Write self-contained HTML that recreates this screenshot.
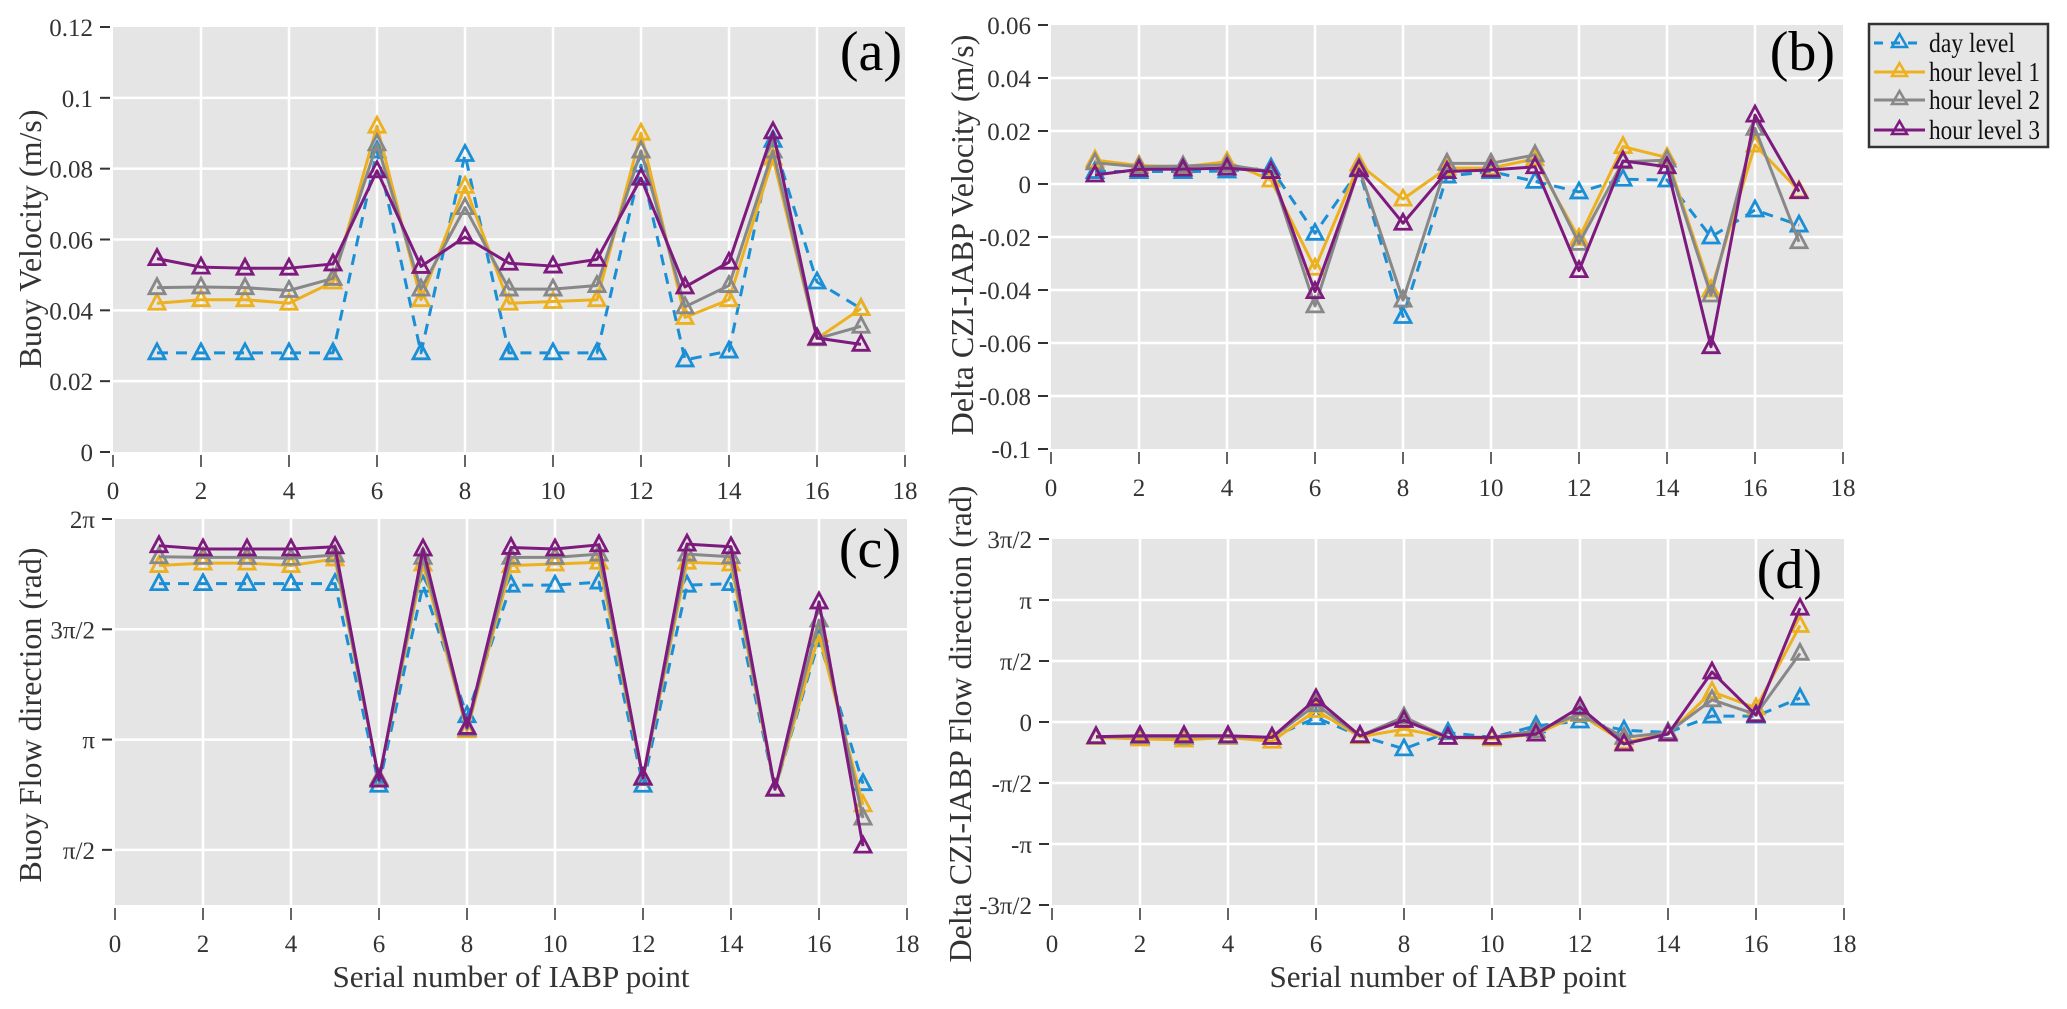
<!DOCTYPE html>
<html><head><meta charset="utf-8">
<style>
html,body{margin:0;padding:0;background:#fff;}
svg{display:block;font-family:"Liberation Serif",serif;}
</style></head>
<body>
<svg id="fig" width="2067" height="1009" viewBox="0 0 2067 1009" xmlns="http://www.w3.org/2000/svg">
<rect x="0" y="0" width="2067" height="1009" fill="#fff"/>
<g id="legend">
<rect x="1869" y="24" width="179" height="123" fill="#e6e6e6" stroke="#333" stroke-width="2.5"/>
<g>
<line x1="1874" y1="43" x2="1925" y2="43" stroke="#1a8fd6" stroke-width="3" stroke-dasharray="9,8"/>
<polygon points="1899.5,34 1892,47 1907,47" fill="none" stroke="#1a8fd6" stroke-width="2.5"/>
<text x="1929" y="52" font-size="27" fill="#111" textLength="86" lengthAdjust="spacingAndGlyphs">day level</text></g>
<g>
<line x1="1874" y1="72" x2="1925" y2="72" stroke="#EDB120" stroke-width="3"/>
<polygon points="1899.5,63 1892,76 1907,76" fill="none" stroke="#EDB120" stroke-width="2.5"/>
<text x="1929" y="81" font-size="27" fill="#111" textLength="111" lengthAdjust="spacingAndGlyphs">hour level 1</text></g>
<g>
<line x1="1874" y1="100" x2="1925" y2="100" stroke="#888" stroke-width="3"/>
<polygon points="1899.5,91 1892,104 1907,104" fill="none" stroke="#888" stroke-width="2.5"/>
<text x="1929" y="109" font-size="27" fill="#111" textLength="111" lengthAdjust="spacingAndGlyphs">hour level 2</text></g>
<g>
<line x1="1874" y1="130" x2="1925" y2="130" stroke="#7E1A7E" stroke-width="3"/>
<polygon points="1899.5,121 1892,134 1907,134" fill="none" stroke="#7E1A7E" stroke-width="2.5"/>
<text x="1929" y="139" font-size="27" fill="#111" textLength="111" lengthAdjust="spacingAndGlyphs">hour level 3</text></g>
</g>
</svg>
<script>
// ---------- data ----------
const points = [1,2,3,4,5,6,7,8,9,10,11,12,13,14,15,16,17];
const xTicks = [0,2,4,6,8,10,12,14,16,18];
const seriesNames = ["day level","hour level 1","hour level 2","hour level 3"];

// (a) Buoy velocity (m/s)
const aDay   = [0.028,0.028,0.028,0.028,0.028,0.085,0.028,0.084,0.028,0.028,0.028,0.081,0.026,0.0285,0.088,0.048,0.0405];
const aHour1 = [0.042,0.043,0.043,0.042,0.048,0.092,0.043,0.075,0.042,0.0425,0.043,0.090,0.038,0.043,0.083,0.032,0.0405];
const aHour2 = [0.0464,0.0466,0.0464,0.0456,0.049,0.087,0.046,0.069,0.046,0.046,0.047,0.085,0.041,0.047,0.085,0.032,0.0355];
const aHour3 = [0.0546,0.0522,0.0519,0.0519,0.0531,0.0794,0.0524,0.0607,0.0533,0.0525,0.0544,0.0773,0.0466,0.0536,0.0904,0.0322,0.0304];
const aYTicks = [0,0.02,0.04,0.06,0.08,0.1,0.12];
const aYLabels = ["0","0.02","0.04","0.06","0.08","0.1","0.12"];

// (b) Delta CZI-IABP velocity (m/s)
const bDay   = [0.0047,0.0047,0.0047,0.0049,0.006,-0.0186,0.0053,-0.050,0.003,0.0047,0.001,-0.003,0.0018,0.0015,-0.020,-0.0098,-0.0155];
const bHour1 = [0.009,0.007,0.0065,0.0084,0.0015,-0.0318,0.0075,-0.0057,0.006,0.006,0.0095,-0.0205,0.0141,0.010,-0.040,0.0147,-0.0025];
const bHour2 = [0.008,0.0065,0.0068,0.0072,0.0047,-0.046,0.006,-0.0438,0.0078,0.0078,0.011,-0.0224,0.0084,0.009,-0.0419,0.021,-0.0218];
const bHour3 = [0.0034,0.0055,0.0056,0.006,0.0047,-0.0406,0.0055,-0.0148,0.0047,0.0053,0.0065,-0.0327,0.0087,0.0065,-0.0614,0.026,-0.0029];
const bYTicks = [-0.1,-0.08,-0.06,-0.04,-0.02,0,0.02,0.04,0.06];
const bYLabels = ["-0.1","-0.08","-0.06","-0.04","-0.02","0","0.02","0.04","0.06"];

// (c) Buoy flow direction (in units of pi rad)
const cDay   = [1.707,1.707,1.707,1.707,1.707,0.793,1.70,1.108,1.70,1.70,1.714,0.793,1.70,1.707,0.775,1.452,0.80];
const cHour1 = [1.789,1.80,1.80,1.789,1.819,0.823,1.796,1.04,1.789,1.796,1.804,0.823,1.804,1.796,0.775,1.475,0.704];
const cHour2 = [1.829,1.826,1.826,1.822,1.837,0.823,1.826,1.048,1.826,1.826,1.841,0.823,1.841,1.829,0.775,1.542,0.644];
const cHour3 = [1.879,1.864,1.864,1.864,1.874,0.816,1.864,1.055,1.871,1.864,1.883,0.826,1.886,1.874,0.775,1.624,0.517];
const cYTicks = [0.5,1,1.5,2];
const cYLabels = ["\u03c0/2","\u03c0","3\u03c0/2","2\u03c0"];

// (d) Delta CZI-IABP flow direction (in units of pi rad)
const dDay   = [-0.126,-0.126,-0.126,-0.126,-0.126,0.035,-0.113,-0.22,-0.086,-0.126,-0.032,0.008,-0.067,-0.086,0.048,0.048,0.196];
const dHour1 = [-0.126,-0.139,-0.147,-0.126,-0.158,0.094,-0.121,-0.059,-0.126,-0.139,-0.099,0.062,-0.166,-0.099,0.249,0.115,0.791];
const dHour2 = [-0.121,-0.121,-0.121,-0.121,-0.126,0.142,-0.113,0.04,-0.126,-0.126,-0.072,0.067,-0.126,-0.086,0.182,0.062,0.563];
const dHour3 = [-0.121,-0.113,-0.113,-0.113,-0.126,0.19,-0.113,0.013,-0.126,-0.126,-0.099,0.121,-0.18,-0.099,0.41,0.056,0.933];
const dYTicks = [-1.5,-1,-0.5,0,0.5,1,1.5];
const dYLabels = ["-3\u03c0/2","-\u03c0","-\u03c0/2","0","\u03c0/2","\u03c0","3\u03c0/2"];

// ---------- drawing ----------
const NS = "http://www.w3.org/2000/svg";
const svg = document.getElementById("fig");
const colors = ["#1a8fd6","#EDB120","#888888","#7E1A7E"];
function mk(tag, parent){ const e=document.createElementNS(NS,tag); parent.appendChild(e); return e; }

function panel(p){
  const g = mk("g", svg);
  
  
  const xs = v => p.x0 + (v - 0) / 18 * (p.x1 - p.x0);
  const ys = v => p.yb - (v - p.ymin) / (p.ymax - p.ymin) * (p.yb - p.yt);
  const bg = mk("rect", g);
  
  
  bg.setAttribute("x", p.x0); bg.setAttribute("y", p.yt);
  bg.setAttribute("width", p.x1 - p.x0); bg.setAttribute("height", p.yb - p.yt);
  bg.setAttribute("fill", "#e5e5e5");
  xTicks.forEach(t => {
    if (t === 0 || t === 18) return;
    const l = mk("line", g);
    
    
    l.setAttribute("x1", xs(t)); l.setAttribute("x2", xs(t));
    l.setAttribute("y1", p.yt); l.setAttribute("y2", p.yb);
    l.setAttribute("stroke", "#fff"); l.setAttribute("stroke-width", "2.5");
  });
  p.yTicks.forEach(t => {
    if (t === p.ymin || t === p.ymax) return;
    const l = mk("line", g);
    
    
    l.setAttribute("x1", p.x0); l.setAttribute("x2", p.x1);
    l.setAttribute("y1", ys(t)); l.setAttribute("y2", ys(t));
    l.setAttribute("stroke", "#fff"); l.setAttribute("stroke-width", "2.5");
  });
  xTicks.forEach(t => {
    const l = mk("line", g);
    
    
    l.setAttribute("x1", xs(t)); l.setAttribute("x2", xs(t));
    l.setAttribute("y1", p.yb + 3); l.setAttribute("y2", p.yb + 15);
    l.setAttribute("stroke", "#333"); l.setAttribute("stroke-width", "1.5");
    const tx = mk("text", g);
    
    
    tx.setAttribute("x", xs(t)); tx.setAttribute("y", p.yb + 47);
    tx.setAttribute("text-anchor", "middle"); tx.setAttribute("font-size", "25");
    tx.setAttribute("fill", "#333");
    tx.textContent = t;
  });
  p.yTicks.forEach((t, i) => {
    const l = mk("line", g);
    
    
    l.setAttribute("x1", p.x0 - 13); l.setAttribute("x2", p.x0 - 3);
    l.setAttribute("y1", ys(t)); l.setAttribute("y2", ys(t));
    l.setAttribute("stroke", "#333"); l.setAttribute("stroke-width", "2");
    const tx = mk("text", g);
    
    
    tx.setAttribute("x", p.x0 - 20); tx.setAttribute("y", ys(t) + 9);
    tx.setAttribute("text-anchor", "end"); tx.setAttribute("font-size", "25");
    tx.setAttribute("fill", "#333");
    tx.textContent = p.yLabels[i];
  });
  p.series.forEach((vals, si) => {
    const sg = mk("g", g);
    
    
    const pl = mk("polyline", sg);
    
    
    pl.setAttribute("points", points.map((x, i) => xs(x) + "," + ys(vals[i])).join(" "));
    pl.setAttribute("fill", "none"); pl.setAttribute("stroke", colors[si]);
    pl.setAttribute("stroke-width", "3"); pl.setAttribute("stroke-linejoin", "round");
    if (si === 0) pl.setAttribute("stroke-dasharray", "11,8");
    points.forEach((x, i) => {
      const cx = xs(x), cy = ys(vals[i]);
      const m = mk("polygon", sg);
      
      
      m.setAttribute("points", cx + "," + (cy - 9) + " " + (cx - 8) + "," + (cy + 6) + " " + (cx + 8) + "," + (cy + 6));
      m.setAttribute("fill", "none"); m.setAttribute("stroke", colors[si]); m.setAttribute("stroke-width", "2.8");
    });
  });
  const yl = mk("text", g);
  
  
  yl.setAttribute("transform", "translate(" + p.ylx + "," + p.yly + ") rotate(-90)");
  yl.setAttribute("text-anchor", "middle"); yl.setAttribute("dominant-baseline", "central");
  yl.setAttribute("font-size", "32"); yl.setAttribute("fill", "#333");
  yl.textContent = p.ylabel;
  if (p.xlabel) {
    const xl = mk("text", g);
    
    
    xl.setAttribute("x", (p.x0 + p.x1) / 2); xl.setAttribute("y", 987);
    xl.setAttribute("text-anchor", "middle"); xl.setAttribute("font-size", "31"); xl.setAttribute("fill", "#333");
    xl.textContent = p.xlabel;
  }
  const pt = mk("text", g);
  
  
  pt.setAttribute("x", p.lx); pt.setAttribute("y", p.ly);
  pt.setAttribute("text-anchor", "end"); pt.setAttribute("font-size", "56"); pt.setAttribute("fill", "#000");
  pt.textContent = "(" + p.key + ")";
}

panel({key:"a", x0:113, x1:905, yt:27, yb:452, ymin:0, ymax:0.12, yTicks:aYTicks, yLabels:aYLabels,
  series:[aDay,aHour1,aHour2,aHour3], ylabel:"Buoy Velocity (m/s)", ylx:30, yly:239, lx:902, ly:70});
panel({key:"b", x0:1051, x1:1843, yt:25, yb:449, ymin:-0.1, ymax:0.06, yTicks:bYTicks, yLabels:bYLabels,
  series:[bDay,bHour1,bHour2,bHour3], ylabel:"Delta CZI-IABP Velocity (m/s)", ylx:962, yly:235, lx:1835, ly:70});
panel({key:"c", x0:115, x1:907, yt:519, yb:905, ymin:0.25, ymax:2, yTicks:cYTicks, yLabels:cYLabels,
  series:[cDay,cHour1,cHour2,cHour3], ylabel:"Buoy Flow direction (rad)", ylx:30, yly:715, lx:901, ly:567,
  xlabel:"Serial number of IABP point"});
panel({key:"d", x0:1052, x1:1844, yt:539, yb:905, ymin:-1.5, ymax:1.5, yTicks:dYTicks, yLabels:dYLabels,
  series:[dDay,dHour1,dHour2,dHour3], ylabel:"Delta CZI-IABP Flow direction (rad)", ylx:960, yly:724, lx:1822, ly:588,
  xlabel:"Serial number of IABP point"});
svg.appendChild(document.getElementById("legend"));
</script>
</body></html>
